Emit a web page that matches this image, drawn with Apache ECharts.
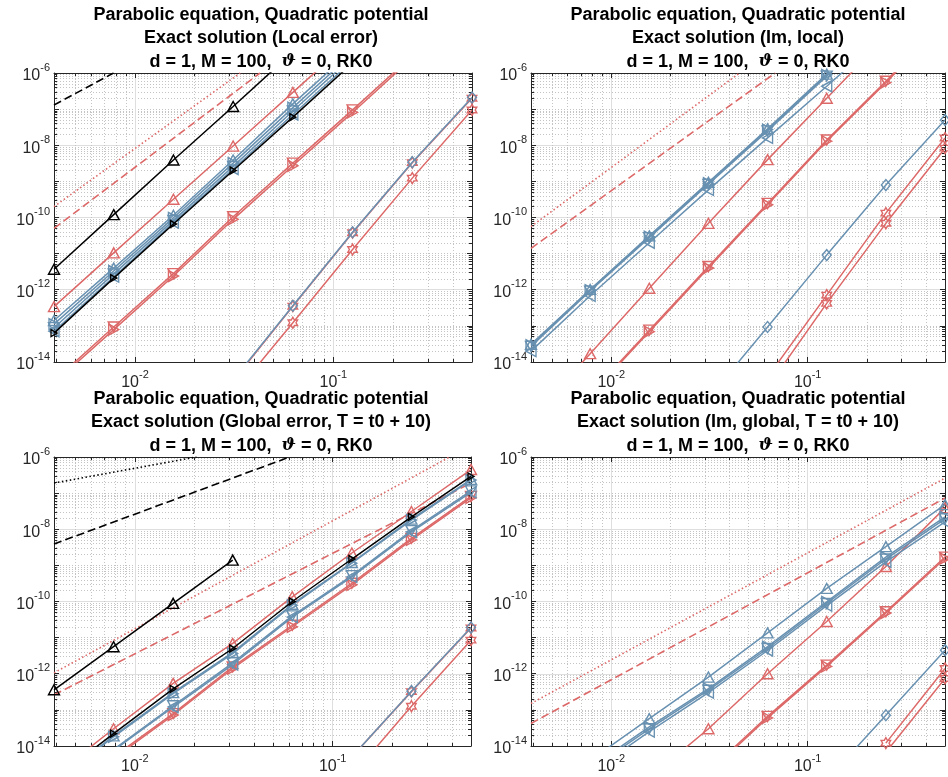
<!DOCTYPE html>
<html>
<head>
<meta charset="utf-8">
<title>Parabolic equation, Quadratic potential</title>
<script src="https://cdn.jsdelivr.net/npm/echarts@6/dist/echarts.min.js"></script>
<style>
html,body{margin:0;padding:0;background:#fff;}
#chart{width:948px;height:777px;}
</style>
</head>
<body>
<div id="chart"></div>
<script>
// step sizes h = 2^-8 ... 2^-1
var H = [0.00390625, 0.0078125, 0.015625, 0.03125, 0.0625, 0.125, 0.25, 0.5];
var Y_TICKS = [-14, -12, -10, -8, -6];

// ---- panel 1 : local error
var p1_kTri   = [3.7e-12, 1.2e-10, 3.9e-9, 1.18e-7, 3.8e-6, null, null, null];
var p1_rUp    = [3.4e-13, 1.05e-11, 3.2e-10, 9.5e-9, 2.9e-7, 9e-6, null, null];
var p1_bUp    = [1.41e-13, 3.98e-12, 1.15e-10, 3.9e-9, 1.4e-7, 4.4e-6, null, null];
var p1_bRight = [1.12e-13, 3.3e-12, 9.8e-11, 3.2e-9, 1.1e-7, 3.5e-6, null, null];
var p1_bDown  = [8.9e-14, 2.75e-12, 8.3e-11, 2.6e-9, 8.9e-8, 2.8e-6, null, null];
var p1_bLeft  = [7.1e-14, 2.3e-12, 7.2e-11, 2.2e-9, 7.1e-8, 2.2e-6, null, null];
var p1_kRight = [6.3e-14, 2.1e-12, 6.6e-11, 2.0e-9, 6.0e-8, 1.9e-6, null, null];
var p1_rDown  = [3e-15, 9.3e-14, 2.8e-12, 1.05e-10, 3.2e-9, 9.5e-8, 3e-6, null];
var p1_rRight = [2.6e-15, 7.9e-14, 2.4e-12, 8.9e-11, 2.7e-9, 8.1e-8, 2.6e-6, null];
var p1_rHexA  = [null, null, null, 3e-15, 3.5e-13, 3.8e-11, 3.3e-9, 2.0e-7];
var p1_bDia   = [null, null, null, 3.2e-15, 3.6e-13, 3.9e-11, 3.4e-9, 2.1e-7];
var p1_rHexB  = [null, null, null, 1.2e-15, 1.22e-13, 1.3e-11, 1.23e-9, 9.5e-8];
var p1_kDash  = [[0.00390625, 1.3e-7], [0.0078, 1e-6]];
var p1_rDot   = [[0.00390625, 2.0e-10], [0.0339, 1e-6]];
var p1_rDash  = [[0.00390625, 5.0e-11], [0.0427, 1e-6]];

// ---- panel 2 : Im, local
var p2_rUp    = [2.8e-16, 1.7e-14, 1.1e-12, 6.9e-11, 4.0e-9, 2.0e-7, 1e-5, null];
var p2_bUp    = [3.1e-14, 1.02e-12, 3.1e-11, 9.4e-10, 2.85e-8, 9.3e-7, 2.8e-5, null];
var p2_bRight = [2.9e-14, 9.8e-13, 2.95e-11, 8.9e-10, 2.7e-8, 8.9e-7, 2.7e-5, null];
var p2_bDown  = [2.7e-14, 9.2e-13, 2.75e-11, 8.3e-10, 2.5e-8, 8.2e-7, 2.5e-5, null];
var p2_bLeft  = [2.0e-14, 6.8e-13, 2.0e-11, 5.8e-10, 1.6e-8, 4.3e-7, 1.2e-5, null];
var p2_rDown  = [null, 1.3e-15, 7.6e-14, 4.4e-12, 2.45e-10, 1.4e-8, 5.9e-7, 3e-5];
var p2_rRight = [null, 1.2e-15, 6.9e-14, 4.0e-12, 2.25e-10, 1.3e-8, 5.4e-7, 2.7e-5];
var p2_bDia   = [null, null, null, 1e-15, 9.3e-14, 9.1e-12, 7.9e-10, 5.0e-8];
var p2_rHexA  = [null, null, null, null, 3.8e-15, 7.1e-13, 1.32e-10, 1.58e-8];
var p2_rHexB  = [null, null, null, null, 2e-15, 4.2e-13, 6.9e-11, 8.3e-9];
var p2_rDot   = [[0.00390625, 5.6e-11], [0.045, 1e-6]];
var p2_rDash  = [[0.00390625, 1.4e-11], [0.0684, 1e-6]];

// ---- panel 3 : global error
var p3_kTri   = [3.6e-13, 5.6e-12, 8.9e-11, 1.4e-9, null, null, null, null];
var p3_rUp    = [1.5e-15, 3.0e-14, 5.4e-13, 6.9e-12, 1.35e-10, 2.2e-9, 3.1e-8, 4.5e-7];
var p3_kRight = [1.2e-15, 2.2e-14, 3.8e-13, 5.0e-12, 1.0e-10, 1.5e-9, 2.2e-8, 2.9e-7];
var p3_bUp    = [1e-15, 1.9e-14, 3.0e-13, 3.9e-12, 8.4e-11, 1.2e-9, 1.9e-8, 2.4e-7];
var p3_bRight = [9e-16, 1.8e-14, 2.8e-13, 3.6e-12, 7.9e-11, 1.15e-9, 1.8e-8, 2.3e-7];
var p3_bDown  = [5e-16, 8e-15, 1.3e-13, 2.0e-12, 4.0e-11, 5.2e-10, 9.2e-9, 1.15e-7];
var p3_bLeft  = [4.5e-16, 7.5e-15, 1.2e-13, 1.8e-12, 3.7e-11, 4.8e-10, 8.4e-9, 1.05e-7];
var p3_rDown  = [3e-16, 5e-15, 7.9e-14, 1.55e-12, 2.2e-11, 3.2e-10, 5.6e-9, 8.1e-8];
var p3_rRight = [2.7e-16, 4.5e-15, 7.2e-14, 1.4e-12, 2.0e-11, 2.9e-10, 5.1e-9, 7.4e-8];
var p3_bDia   = [null, null, null, null, null, 5e-15, 3.3e-13, 1.9e-11];
var p3_rHexA  = [null, null, null, null, null, 5e-15, 3.2e-13, 1.85e-11];
var p3_rHexB  = [null, null, null, null, null, 1.5e-15, 1.26e-13, 8.5e-12];
var p3_kDot   = [[0.00390625, 1.9e-7], [0.0205, 1e-6]];
var p3_kDash  = [[0.00390625, 3.9e-9], [0.0606, 1e-6]];
var p3_rDot   = [[0.00390625, 1.06e-12], [0.39, 1e-6]];
var p3_rDash  = [[0.00390625, 2.6e-13], [0.5, 1.9e-7]];

// ---- panel 4 : Im, global
var p4_bUp    = [null, 4e-15, 5.7e-14, 8.1e-13, 1.35e-11, 2.3e-10, 3.3e-9, 4.8e-8];
var p4_bRight = [null, 2.5e-15, 3.4e-14, 3.9e-13, 5.6e-12, 9.8e-11, 1.7e-9, 2.2e-8];
var p4_bDown  = [null, 2.2e-15, 3.0e-14, 3.5e-13, 5.0e-12, 8.8e-11, 1.5e-9, 1.95e-8];
var p4_bLeft  = [null, 1.8e-15, 2.5e-14, 3.0e-13, 4.4e-12, 7.7e-11, 1.25e-9, 1.6e-8];
var p4_rUp    = [null, null, 1.3e-15, 3.0e-14, 1.0e-12, 2.8e-11, 9.3e-10, 3.9e-8];
var p4_rDown  = [null, null, null, 2e-15, 6.6e-14, 1.74e-12, 5.2e-11, 1.7e-9];
var p4_rRight = [null, null, null, 1.8e-15, 6.0e-14, 1.6e-12, 4.8e-11, 1.55e-9];
var p4_bDia   = [null, null, null, null, null, 1.15e-15, 7.1e-14, 4.5e-12];
var p4_rHexA  = [null, null, null, null, null, null, 1.2e-14, 1.4e-12];
var p4_rHexB  = [null, null, null, null, null, null, 6.7e-15, 7.4e-13];
var p4_rDot   = [[0.00390625, 1.5e-13], [0.5, 2.6e-7]];
var p4_rDash  = [[0.00390625, 4.2e-14], [0.5, 7.3e-8]];

var TITLE1 = 'Parabolic equation, Quadratic potential';
var TITLE3 = 'd = 1, M = 100,  {i|ϑ} = 0, RK0';
var TITLE2 = ['Exact solution (Local error)', 'Exact solution (Im, local)',
	'Exact solution (Global error, T = t0 + 10)', 'Exact solution (Im, global, T = t0 + 10)'];

var FONT = '"Liberation Sans", Arial, Helvetica, sans-serif';
var AX = '#262626';
var RED = '#dd6868';
var BLUE = '#6891b1';
var BLACK = '#000000';
var MAJ = '#dedede';
var MIN = '#c4c4c4';
var HEX = 'path://M0,-10L2.887,-5L8.66,-5L5.774,0L8.66,5L2.887,5L0,10L-2.887,5L-8.66,5L-5.774,0L-8.66,-5L-2.887,-5Z';

var grids = [
	{left: 54, top: 73, width: 418, height: 289},
	{left: 531, top: 73, width: 416, height: 289},
	{left: 54, top: 457, width: 417, height: 289},
	{left: 531, top: 457, width: 416, height: 289}
];

var marks = {
	kTri:   {c: BLACK, s: 'triangle', r: 0, z: [11, 10]},
	kRight: {c: BLACK, s: 'triangle', r: -90, z: [7, 6]},
	rUp:    {c: RED, s: 'triangle', r: 0, z: [11, 10]},
	rDown:  {c: RED, s: 'triangle', r: 180, z: [11, 10]},
	rRight: {c: RED, s: 'triangle', r: -90, z: [11, 10]},
	rHex:   {c: RED, s: HEX, r: 0, z: [11, 11]},
	bUp:    {c: BLUE, s: 'triangle', r: 0, z: [11, 10]},
	bDown:  {c: BLUE, s: 'triangle', r: 180, z: [11, 10]},
	bLeft:  {c: BLUE, s: 'triangle', r: 90, z: [11, 10]},
	bRight: {c: BLUE, s: 'triangle', r: -90, z: [11, 10]},
	bDia:   {c: BLUE, s: 'diamond', r: 0, z: [9, 11]}
};

function pairs(vals){
	var out = [];
	for (var i = 0; i < H.length; i++) {
		out.push(vals[i] == null ? [H[i], '-'] : [H[i], vals[i]]);
	}
	return out;
}

function markSeries(g, vals, key){
	var m = marks[key];
	return {
		type: 'line', xAxisIndex: g * 2, yAxisIndex: g * 2, data: pairs(vals),
		symbol: m.s, symbolRotate: m.r, symbolSize: m.z, symbolKeepAspect: true,
		showSymbol: true, clip: true, silent: true, z: key.charAt(0) == 'k' ? 4 : (key.charAt(0) == 'b' ? 3 : 2),
		lineStyle: {color: m.c, width: 1.5},
		itemStyle: {color: 'rgba(255,255,255,0)', borderColor: m.c, borderWidth: 1.4}
	};
}

function refSeries(g, pts, color, dash){
	return {
		type: 'line', xAxisIndex: g * 2, yAxisIndex: g * 2, data: pts,
		symbol: 'none', clip: true, silent: true, z: 1,
		lineStyle: {color: color, width: 1.6, type: dash}
	};
}

function expLabel(evenOnly){
	return function(v){
		var e = Math.log10(v);
		var k = Math.round(e);
		if (Math.abs(e - k) > 1e-6) return '';
		if (evenOnly && Y_TICKS.indexOf(k) < 0) return '';
		return '{b|10}{s|' + k + '}';
	};
}

var RICH = {
	b: {fontSize: 16, fontFamily: FONT, color: AX, lineHeight: 22, verticalAlign: 'bottom'},
	s: {fontSize: 11, fontFamily: FONT, color: AX, lineHeight: 11, verticalAlign: 'top'}
};

var xAxes = [], yAxes = [];
for (var g = 0; g < 4; g++) {
	xAxes.push({
		gridIndex: g, type: 'log', logBase: 10, min: H[0], max: H[H.length - 1], position: 'bottom',
		axisLine: {show: true, onZero: false, lineStyle: {color: AX, width: 1}},
		axisTick: {show: true, inside: true, length: 5, lineStyle: {color: AX}},
		minorTick: {show: true, splitNumber: 9, length: 3, lineStyle: {color: AX}},
		axisLabel: {show: true, margin: 7, formatter: expLabel(false), rich: RICH},
		splitLine: {show: true, lineStyle: {color: MAJ, width: 1}},
		minorSplitLine: {show: true, lineStyle: {color: MIN, width: 1, type: [1, 2]}}
	});
	xAxes.push({
		gridIndex: g, type: 'log', logBase: 10, min: H[0], max: H[H.length - 1], position: 'top',
		axisLine: {show: true, onZero: false, lineStyle: {color: AX, width: 1}},
		axisTick: {show: true, inside: true, length: 5, lineStyle: {color: AX}},
		minorTick: {show: true, splitNumber: 9, length: 3, lineStyle: {color: AX}},
		axisLabel: {show: false}, splitLine: {show: false}
	});
	yAxes.push({
		gridIndex: g, type: 'log', logBase: 10, min: 1e-14, max: 1e-6, position: 'left',
		axisLine: {show: true, onZero: false, lineStyle: {color: AX, width: 1}},
		axisTick: {show: true, inside: true, length: 5, lineStyle: {color: AX}},
		minorTick: {show: true, splitNumber: 9, length: 3, lineStyle: {color: AX}},
		axisLabel: {show: true, margin: 4, formatter: expLabel(true), rich: RICH},
		splitLine: {show: true, lineStyle: {color: [MAJ, 'rgba(0,0,0,0)'], width: 1}},
		minorSplitLine: {show: true, lineStyle: {color: MIN, width: 1, type: [1, 2]}}
	});
	yAxes.push({
		gridIndex: g, type: 'log', logBase: 10, min: 1e-14, max: 1e-6, position: 'right',
		axisLine: {show: true, onZero: false, lineStyle: {color: AX, width: 1}},
		axisTick: {show: true, inside: true, length: 5, lineStyle: {color: AX}},
		minorTick: {show: true, splitNumber: 9, length: 3, lineStyle: {color: AX}},
		axisLabel: {show: false},
		splitLine: {show: true, lineStyle: {color: ['rgba(0,0,0,0)', MIN], width: 1, type: [1, 2]}}
	});
}

var series = [
	refSeries(0, p1_kDash, BLACK, [8, 4]),
	refSeries(0, p1_rDot, RED, [1.5, 2.5]),
	refSeries(0, p1_rDash, RED, [8, 4]),
	markSeries(0, p1_rUp, 'rUp'),
	markSeries(0, p1_rDown, 'rDown'),
	markSeries(0, p1_rRight, 'rRight'),
	markSeries(0, p1_rHexA, 'rHex'),
	markSeries(0, p1_rHexB, 'rHex'),
	markSeries(0, p1_bUp, 'bUp'),
	markSeries(0, p1_bRight, 'bRight'),
	markSeries(0, p1_bDown, 'bDown'),
	markSeries(0, p1_bLeft, 'bLeft'),
	markSeries(0, p1_bDia, 'bDia'),
	markSeries(0, p1_kRight, 'kRight'),
	markSeries(0, p1_kTri, 'kTri'),

	refSeries(1, p2_rDot, RED, [1.5, 2.5]),
	refSeries(1, p2_rDash, RED, [8, 4]),
	markSeries(1, p2_rUp, 'rUp'),
	markSeries(1, p2_rDown, 'rDown'),
	markSeries(1, p2_rRight, 'rRight'),
	markSeries(1, p2_rHexA, 'rHex'),
	markSeries(1, p2_rHexB, 'rHex'),
	markSeries(1, p2_bUp, 'bUp'),
	markSeries(1, p2_bRight, 'bRight'),
	markSeries(1, p2_bDown, 'bDown'),
	markSeries(1, p2_bLeft, 'bLeft'),
	markSeries(1, p2_bDia, 'bDia'),

	refSeries(2, p3_kDot, BLACK, [1.5, 2.5]),
	refSeries(2, p3_kDash, BLACK, [8, 4]),
	refSeries(2, p3_rDot, RED, [1.5, 2.5]),
	refSeries(2, p3_rDash, RED, [8, 4]),
	markSeries(2, p3_rUp, 'rUp'),
	markSeries(2, p3_rDown, 'rDown'),
	markSeries(2, p3_rRight, 'rRight'),
	markSeries(2, p3_rHexA, 'rHex'),
	markSeries(2, p3_rHexB, 'rHex'),
	markSeries(2, p3_bUp, 'bUp'),
	markSeries(2, p3_bRight, 'bRight'),
	markSeries(2, p3_bDown, 'bDown'),
	markSeries(2, p3_bLeft, 'bLeft'),
	markSeries(2, p3_bDia, 'bDia'),
	markSeries(2, p3_kRight, 'kRight'),
	markSeries(2, p3_kTri, 'kTri'),

	refSeries(3, p4_rDot, RED, [1.5, 2.5]),
	refSeries(3, p4_rDash, RED, [8, 4]),
	markSeries(3, p4_rUp, 'rUp'),
	markSeries(3, p4_rDown, 'rDown'),
	markSeries(3, p4_rRight, 'rRight'),
	markSeries(3, p4_rHexA, 'rHex'),
	markSeries(3, p4_rHexB, 'rHex'),
	markSeries(3, p4_bUp, 'bUp'),
	markSeries(3, p4_bRight, 'bRight'),
	markSeries(3, p4_bDown, 'bDown'),
	markSeries(3, p4_bLeft, 'bLeft'),
	markSeries(3, p4_bDia, 'bDia')
];

// titles, three centred lines above each panel
var titlePos = [[261, 3], [738, 3], [261, 387], [738, 387]];
var graphic = [];
for (var t = 0; t < 4; t++) {
	graphic.push({
		type: 'text', x: titlePos[t][0], y: titlePos[t][1], silent: true,
		style: {
			text: TITLE1 + '\n' + TITLE2[t] + '\n' + TITLE3,
			fontFamily: FONT, fontSize: 18, fontWeight: 'bold', fill: '#000',
			lineHeight: 23.5, align: 'center', verticalAlign: 'top',
			rich: {i: {fontFamily: '"DejaVu Serif", serif', fontStyle: 'italic', fontWeight: 'bold', fontSize: 17, lineHeight: 23.5}}
		}
	});
}

var chart = echarts.init(document.getElementById('chart'), null, {renderer: 'canvas'});
chart.setOption({
	animation: false,
	backgroundColor: '#ffffff',
	grid: grids,
	xAxis: xAxes,
	yAxis: yAxes,
	series: series,
	graphic: graphic
});
</script>
</body>
</html>
